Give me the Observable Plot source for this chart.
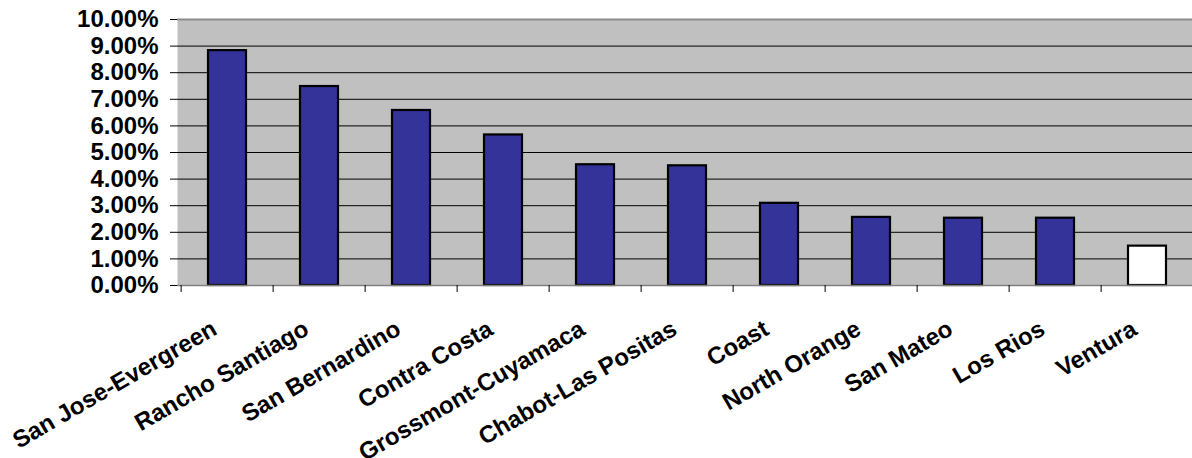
<!DOCTYPE html>
<html>
<head>
<meta charset="utf-8">
<script src="https://cdn.jsdelivr.net/npm/d3@7"></script>
<script src="https://cdn.jsdelivr.net/npm/@observablehq/plot@0.6"></script>
<style>
  html, body { margin: 0; padding: 0; background: white; }
</style>
</head>
<body>
<div id="chart"></div>
<script>
const categories = ["San Jose-Evergreen", "Rancho Santiago", "San Bernardino", "Contra Costa", "Grossmont-Cuyamaca", "Chabot-Las Positas", "Coast", "North Orange", "San Mateo", "Los Rios", "Ventura"];
const values = [0.0883, 0.0748, 0.0658, 0.0566, 0.0454, 0.0450, 0.0309, 0.0256, 0.0253, 0.0253, 0.0148];
const highlighted = ["Ventura"];
const yTicks = [0, 0.01, 0.02, 0.03, 0.04, 0.05, 0.06, 0.07, 0.08, 0.09, 0.10];

const data = categories.map((name, i) => ({name, value: values[i]}));

(function () {
const W = 1192, H = 458;
const pLeft = 177, pRight = 1197, pTop = 19, pBottom = 285;
const step = (pRight - pLeft) / categories.length;

const chart = Plot.plot({
  width: W,
  height: H,
  marginLeft: pLeft,
  marginRight: 0,
  marginTop: pTop,
  marginBottom: H - pBottom,
  style: {
    fontFamily: "Arial, 'Liberation Sans', sans-serif",
    fontSize: "24px",
    fontWeight: "bold",
    background: "white",
    color: "black",
    overflow: "hidden"
  },
  x: {domain: categories, range: [pLeft, pRight], paddingInner: 0.59, paddingOuter: 0.295, align: 0.5, axis: null},
  y: {domain: [0, 0.10], range: [pBottom, pTop], axis: null},
  marks: [
    Plot.frame({fill: "#c0c0c0", stroke: null}),
    Plot.ruleY(yTicks.filter(d => d > 0 && d < 0.10), {stroke: "#000", strokeWidth: 1}),
    Plot.ruleY([0.10], {stroke: "#8c8c8c", strokeWidth: 2}),
    Plot.barY(data, {
      x: "name", y: "value",
      fill: d => highlighted.includes(d.name) ? "#ffffff" : "#333399",
      stroke: "#000", strokeWidth: 2.2
    }),
    Plot.ruleY([0], {stroke: "#808080", strokeWidth: 1.5}),
    Plot.ruleX([0], {frameAnchor: "left", stroke: "#808080", strokeWidth: 1.5}),
    Plot.axisY({
      ticks: yTicks,
      tickSize: 7,
      tickPadding: 12,
      tickFormat: d => (d * 100).toFixed(2) + "%",
      label: null,
      stroke: "#000",
      fill: "#000"
    }),
    Plot.axisX({
      tickSize: 7,
      text: null,
      label: null,
      dx: -step / 2,
      stroke: "#000"
    }),
    Plot.text(categories, {
      x: d => d,
      frameAnchor: "bottom",
      rotate: -30,
      textAnchor: "end",
      lineAnchor: "bottom",
      dx: -9,
      dy: 48,
      fill: "#000"
    })
  ]
});
document.getElementById("chart").appendChild(chart);
})();
</script>
</body>
</html>
